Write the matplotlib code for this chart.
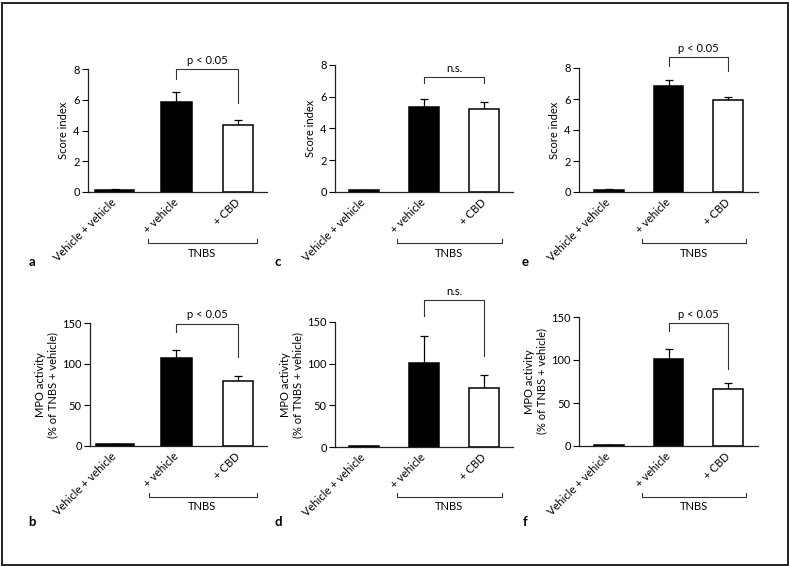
import matplotlib
matplotlib.use("Agg")
import matplotlib.pyplot as plt
from matplotlib.transforms import blended_transform_factory
from matplotlib.patches import Rectangle

plt.rcParams['font.family'] = ['Lato', 'DejaVu Sans']
plt.rcParams['font.size'] = 8

# ---- data ----
categories = ["Vehicle + vehicle", "+ vehicle", "+ CBD"]
score_a = [0.10, 5.87, 4.34]
score_a_err = [0.07, 0.63, 0.35]
score_c = [0.10, 5.33, 5.20]
score_c_err = [0.03, 0.50, 0.48]
score_e = [0.12, 6.84, 5.94]
score_e_err = [0.06, 0.37, 0.22]
mpo_b = [2.0, 107.9, 79.4]
mpo_b_err = [1.0, 9.7, 6.1]
mpo_d = [1.0, 100.5, 71.4]
mpo_d_err = [0.3, 33.3, 15.0]
mpo_f = [1.0, 101.0, 66.1]
mpo_f_err = [0.3, 11.7, 7.0]
score_ticks = [0, 2, 4, 6, 8]
mpo_ticks = [0, 50, 100, 150]
# significance brackets: (top, left drop, right drop, label)
sig_a = (8.0, 7.37, 5.8, "p < 0.05")
sig_c = (7.24, 6.84, 6.84, "n.s.")
sig_e = (8.68, 8.1, 7.79, "p < 0.05")
sig_b = (149.3, 138.7, 108.0, "p < 0.05")
sig_d = (176.0, 157.0, 108.7, "n.s.")
sig_f = (143.0, 134.0, 90.0, "p < 0.05")

W, H = 789, 566
fig = plt.figure(figsize=(W / 100, H / 100), dpi=100)


def rect(l, r, t, b):
    return [l / W, 1 - b / H, (r - l) / W, (b - t) / H]


panels = [
    # letter, rect, values, err, ticks, ylim, xlim, bar1 width, sig, ylabel, row
    ("a", rect(88, 267, 69, 192), score_a, score_a_err, score_ticks, 8, (-0.43, 2.47), 0.62, sig_a, "Score index", 0),
    ("c", rect(335, 513, 65, 192), score_c, score_c_err, score_ticks, 8, (-0.48, 2.48), 0.5, sig_c, "Score index", 0),
    ("e", rect(579, 758, 68, 192), score_e, score_e_err, score_ticks, 8, (-0.5, 2.5), 0.5, sig_e, "Score index", 0),
    ("b", rect(90, 267, 323, 446), mpo_b, mpo_b_err, mpo_ticks, 150, (-0.4, 2.47), 0.62, sig_b,
     "MPO activity\n(% of TNBS + vehicle)", 1),
    ("d", rect(335, 513, 322, 447), mpo_d, mpo_d_err, mpo_ticks, 150, (-0.48, 2.48), 0.5, sig_d,
     "MPO activity\n(% of TNBS + vehicle)", 1),
    ("f", rect(579, 758, 317, 446), mpo_f, mpo_f_err, mpo_ticks, 150, (-0.5, 2.5), 0.5, sig_f,
     "MPO activity\n(% of TNBS + vehicle)", 1),
]

letter_pos = {"a": (32, 262), "c": (278, 262), "e": (525, 262),
              "b": (32, 522), "d": (278, 522), "f": (525, 522)}
tnbs_y = [243, 497]

x = list(range(len(categories)))
for letter, r, vals, errs, ticks, ymax, xlim, w1, sig, ylabel, row in panels:
    ax = fig.add_axes(r)
    widths = [w1, 0.5, 0.5]
    colors = ["black", "black", "white"]
    ax.bar(x, vals, width=widths, color=colors, edgecolor="black", linewidth=1.1, zorder=2)
    ax.errorbar(x, vals, yerr=[[0] * len(vals), errs], fmt="none", ecolor="black",
                elinewidth=0.9, capsize=3.2, capthick=0.9, zorder=1)
    ax.set_ylim(0, ymax)
    ax.set_xlim(*xlim)
    ax.set_yticks(ticks)
    ax.set_xticks(x)
    ax.set_xticklabels(categories, rotation=45, ha="right", va="center",
                       rotation_mode="anchor")
    ax.tick_params(axis="x", length=0, pad=6)
    ax.tick_params(axis="y", length=4, width=0.8, pad=2, direction="out")
    for s in ["top", "right"]:
        ax.spines[s].set_visible(False)
    for s in ["left", "bottom"]:
        ax.spines[s].set_linewidth(0.9)
        ax.spines[s].set_color("#222222")
    ax.set_ylabel(ylabel, labelpad=3, linespacing=1.1)

    # significance bracket
    top, ld, rd, lab = sig
    ax.plot([1, 1, 2, 2], [ld, top, top, rd], color="#333333", lw=0.8, clip_on=False)
    ax.annotate(lab, xy=(1.5, top), xytext=(0, 2.5), textcoords="offset points",
                ha="center", va="bottom", annotation_clip=False)

    # TNBS bracket
    tr = blended_transform_factory(ax.transData, fig.transFigure)
    yl = 1 - tnbs_y[row] / H
    yt = 1 - (tnbs_y[row] - 4) / H
    ax.plot([0.55, 0.55, 2.3, 2.3], [yt, yl, yl, yt], color="#333333", lw=0.8,
            transform=tr, clip_on=False)
    ax.text(1.42, 1 - (tnbs_y[row] + 10) / H, "TNBS", transform=tr, ha="center", va="center")

    lx, ly = letter_pos[letter]
    fig.text(lx / W, 1 - ly / H, letter, fontsize=9.5, fontweight="bold", ha="center", va="center")

fig.patches.append(Rectangle((1.5 / W, 1.5 / H), (W - 3) / W, (H - 4) / H, transform=fig.transFigure,
                             fill=False, edgecolor="#222222", linewidth=1.4))

fig.savefig("out.png", dpi=100)
